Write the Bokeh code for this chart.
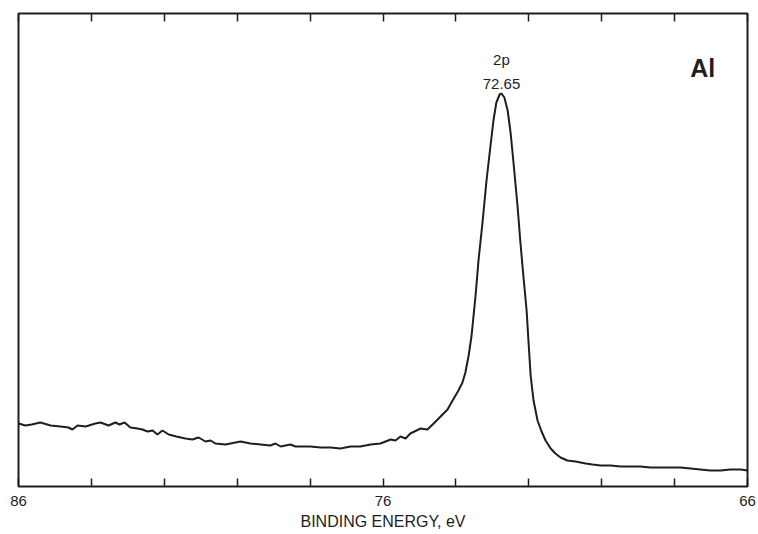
from bokeh.plotting import figure
from bokeh.models import Range1d, FixedTicker, LinearAxis, Label, ColumnDataSource, CustomJSTickFormatter
from bokeh.embed import file_html
from bokeh.resources import INLINE

# Binding energy (eV) and intensity (arb. units)
energy = [86.00, 85.81, 85.64, 85.40, 85.12, 84.85, 84.63, 84.52, 84.38, 84.16,
          83.89, 83.75, 83.53, 83.34, 83.23, 83.09, 82.93, 82.74, 82.60, 82.46,
          82.32, 82.19, 82.05, 81.88, 81.67, 81.42, 81.23, 81.06, 80.87, 80.73,
          80.60, 80.32, 79.91, 79.64, 79.36, 79.09, 78.95, 78.81, 78.54, 78.40,
          77.99, 77.71, 77.44, 77.17, 76.89, 76.62, 76.34, 76.07, 75.79, 75.66,
          75.52, 75.38, 75.25, 74.97, 74.78, 74.61, 74.42, 74.23, 74.09, 73.93,
          73.82, 73.74, 73.65, 73.57, 73.46, 73.38, 73.27, 73.16, 73.05, 72.97,
          72.89, 72.80, 72.75, 72.67, 72.58, 72.50, 72.42, 72.31, 72.23, 72.15,
          72.06, 72.01, 71.95, 71.87, 71.76, 71.65, 71.54, 71.40, 71.27, 71.13,
          70.94, 70.72, 70.44, 70.25, 70.03, 69.76, 69.48, 69.21, 68.94, 68.66,
          68.39, 68.11, 67.84, 67.56, 67.29, 67.02, 66.74, 66.47, 66.19, 66.00]
intensity = [63, 61, 62, 64, 61, 60, 59, 57, 61, 60,
             63, 64, 61, 64, 62, 64, 59, 58, 57, 55,
             56, 52, 56, 52, 50, 48, 47, 49, 45, 46,
             43, 42, 45, 43, 42, 41, 43, 40, 42, 40,
             40, 39, 39, 38, 40, 40, 42, 43, 47, 46,
             50, 48, 53, 58, 57, 63, 70, 77, 86, 96,
             104, 114, 131, 151, 191, 226, 264, 306, 341, 366,
             384, 392, 393, 389, 376, 354, 324, 281, 244, 211,
             176, 146, 111, 86, 66, 55, 46, 38, 33, 29,
             26, 25, 23, 22, 21, 21, 20, 20, 20, 19,
             19, 19, 19, 18, 17, 16, 16, 17, 17, 16]

major_ticks = [86, 76, 66]
minor_ticks = [84, 82, 80, 78, 74, 72, 70, 68]
x_title = "BINDING ENERGY, eV"
peak_name = "2p"
peak_value = "72.65"
element = "Al"

FONT = "Liberation Sans"
INK = "#1e1e1e"

src = ColumnDataSource(data=dict(e=energy, i=intensity))

p = figure(width=758, height=534, output_backend="svg", toolbar_location=None,
           x_range=Range1d(86, 66), y_range=Range1d(0, 473),
           min_border_left=18, min_border_right=11, min_border_top=13,
           min_border_bottom=48)
p.background_fill_color = "white"
p.border_fill_color = "white"
p.grid.visible = False
p.outline_line_color = INK
p.outline_line_width = 2
p.yaxis.visible = False

ticker = FixedTicker(ticks=major_ticks, minor_ticks=minor_ticks)
xa = p.xaxis[0]
xa.ticker = ticker
xa.axis_line_color = None
xa.major_tick_in = 8
xa.major_tick_out = 0
xa.minor_tick_in = 8
xa.minor_tick_out = 0
xa.major_tick_line_color = INK
xa.minor_tick_line_color = INK
xa.major_tick_line_width = 1.5
xa.minor_tick_line_width = 1.5
xa.major_label_text_font = FONT
xa.major_label_text_font_size = "15px"
xa.major_label_text_color = INK
xa.major_label_standoff = 9
xa.axis_label = x_title
xa.axis_label_text_font = FONT
xa.axis_label_text_font_size = "16px"
xa.axis_label_text_font_style = "normal"
xa.axis_label_text_color = INK
xa.axis_label_standoff = 4

top = LinearAxis(ticker=ticker, axis_line_color=None,
                 formatter=CustomJSTickFormatter(code="return ''"),
                 major_tick_in=8, major_tick_out=0, minor_tick_in=8, minor_tick_out=0,
                 major_tick_line_color=INK, minor_tick_line_color=INK,
                 major_tick_line_width=1.5, minor_tick_line_width=1.5,
                 major_label_standoff=0)
p.add_layout(top, "above")

p.line("e", "i", source=src, line_color=INK, line_width=2)

pk = max(range(len(intensity)), key=lambda k: intensity[k])
p.add_layout(Label(x=energy[pk], y=intensity[pk], text=peak_value, y_offset=10,
                   text_align="center", text_baseline="alphabetic",
                   text_font=FONT, text_font_size="15px", text_color=INK))
p.add_layout(Label(x=energy[pk], y=intensity[pk], text=peak_name, y_offset=34,
                   text_align="center", text_baseline="alphabetic",
                   text_font=FONT, text_font_size="15px", text_color=INK))
p.add_layout(Label(x=67.23, y=419, text=element,
                   text_align="center", text_baseline="alphabetic",
                   text_font=FONT, text_font_size="25px", text_font_style="bold",
                   text_color=INK))

open("out.html", "w").write(file_html(p, INLINE))
